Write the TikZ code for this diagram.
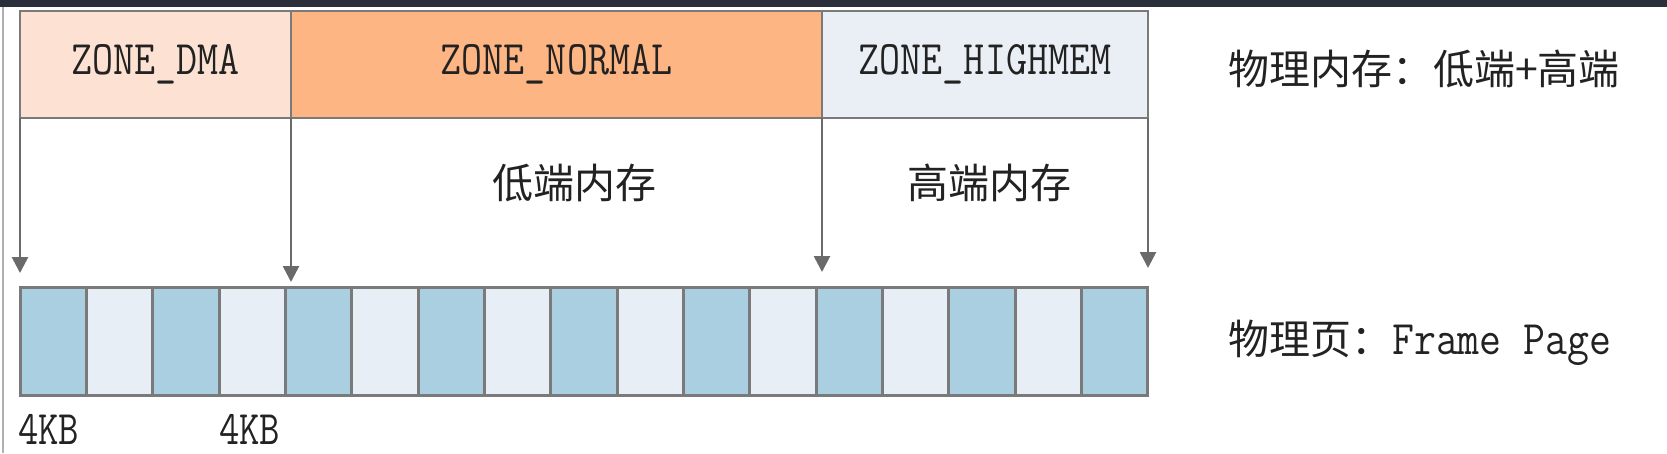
\documentclass[tikz,border=0pt]{standalone}
\usepackage{fontspec}
\newfontfamily\cjk{Noto Sans CJK SC}
\usetikzlibrary{arrows.meta}
\definecolor{band}{HTML}{2B2E3B}
\definecolor{boxline}{HTML}{7A7A7A}
\definecolor{dmafill}{HTML}{FDE2D3}
\definecolor{normalfill}{HTML}{FDB583}
\definecolor{highfill}{HTML}{E9EFF5}
\definecolor{celldark}{HTML}{A9CFE1}
\definecolor{celllight}{HTML}{E7EEF5}
\definecolor{arrowgray}{HTML}{6A6A6A}
\definecolor{txt}{HTML}{222222}
\definecolor{edgegray}{HTML}{B0B0B0}
\begin{document}
\begin{tikzpicture}[x=1pt,y=-1pt,
  zonebox/.style={draw=boxline, line width=2.5pt, minimum height=107pt, inner sep=0pt, outer sep=0pt, anchor=north west, text=txt, font=\fontsize{43}{50}\selectfont\ttfamily},
  cellbox/.style={draw=boxline, line width=3pt, minimum width=66.35pt, minimum height=108pt, inner sep=0pt, outer sep=0pt, anchor=north west},
  link/.style={draw=arrowgray, line width=2.7pt, -{Triangle[length=16pt,width=16pt]}},
  cjklabel/.style={inner sep=0pt, text=txt, font=\fontsize{41}{48}\selectfont\cjk},
  monolabel/.style={inner sep=0pt, text=txt, font=\fontsize{43}{50}\selectfont\ttfamily}]
  % canvas
  \fill[white] (0,0) rectangle (1667,453);
  \useasboundingbox (0,0) rectangle (1667,453);
  \fill[band] (0,0) rectangle (1667,7);
  \draw[edgegray, line width=2pt] (3,7) -- (3,453);
  % zones
  \node[zonebox, fill=dmafill, minimum width=271pt] (dma) at (20,11) {\scalebox{0.95}[1.12]{ZONE\_DMA}};
  \node[zonebox, fill=normalfill, minimum width=531pt] (normal) at (291,11) {\scalebox{0.95}[1.12]{ZONE\_NORMAL}};
  \node[zonebox, fill=highfill, minimum width=326pt] (high) at (822,11) {\scalebox{0.95}[1.12]{ZONE\_HIGHMEM}};
  % frame cells
  \foreach \i in {0,2,...,16} {
    \node[cellbox, fill=celldark] (c\i) at ({20+66.35*\i},287) {};
  }
  \foreach \i in {1,3,...,15} {
    \node[cellbox, fill=celllight] (c\i) at ({20+66.35*\i},287) {};
  }
  % arrow tips
  \coordinate (t1) at (20,273);
  \coordinate (t2) at (291,282);
  \coordinate (t3) at (822,272);
  \coordinate (t4) at (1148,268);
  \draw[link] (dma.south west) -- (t1);
  \draw[link] (normal.south west) -- (t2);
  \draw[link] (high.south west) -- (t3);
  \draw[link] (high.south east) -- (t4);
  % labels
  \node[cjklabel] (lowmem) at (574,183) {低端内存};
  \node[cjklabel] (highmem) at (989,183) {高端内存};
  \node[cjklabel, anchor=west] (phys) at (1228,69) {物理内存：低端+高端};
  \node[cjklabel, anchor=west] (page) at (1228,343) {物理页：{\fontsize{43}{50}\selectfont\ttfamily\scalebox{0.99}[1.12]{Frame Page}}};
  \node[monolabel, anchor=west] (kb1) at (18,429) {\scalebox{0.92}[1.12]{4KB}};
  \node[monolabel, anchor=west] (kb2) at (219,429) {\scalebox{0.92}[1.12]{4KB}};
\end{tikzpicture}
\end{document}
